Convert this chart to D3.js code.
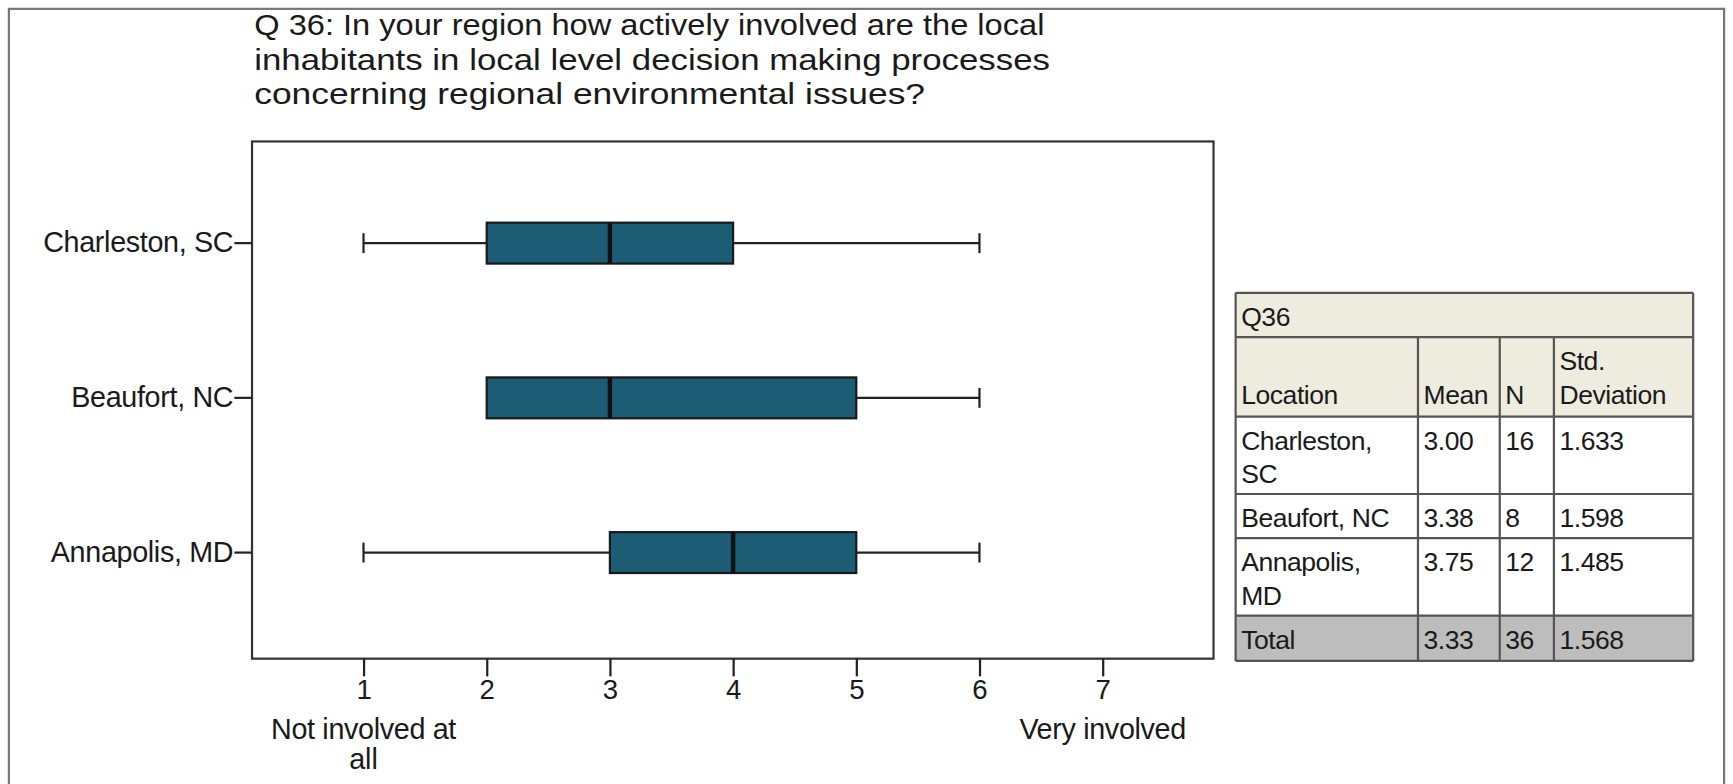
<!DOCTYPE html>
<html>
<head>
<meta charset="utf-8">
<script src="https://cdn.jsdelivr.net/npm/d3@7"></script>
<style>
  body { margin: 0; background: #fff; }
  text { font-family: "Liberation Sans", Arial, sans-serif; fill: #1a1a1a; }
</style>
</head>
<body>
<svg></svg>
<script>
// BOX PLOT DATA
var categories = ['Charleston, SC', 'Beaufort, NC', 'Annapolis, MD'];
var whiskerLow = [1, 2, 1];
var q1 = [2, 2, 3];
var medians = [3, 3, 4];
var q3 = [4, 5, 5];
var whiskerHigh = [6, 6, 6];
var xTicks = [1, 2, 3, 4, 5, 6, 7];

// TABLE DATA
var tableTitle = 'Q36';
var tableHeader = ['Location', 'Mean', 'N', 'Std. Deviation'];
var tableLocations = [['Charleston,', 'SC'], ['Beaufort, NC'], ['Annapolis,', 'MD']];
var tableMeans = ['3.00', '3.38', '3.75'];
var tableNs = ['16', '8', '12'];
var tableStds = ['1.633', '1.598', '1.485'];
var tableTotal = ['Total', '3.33', '36', '1.568'];

var titleLines = [
    'Q 36: In your region how actively involved are the local',
    'inhabitants in local level decision making processes',
    'concerning regional environmental issues?'
];

var svgWidth = 1733,
    svgHeight = 784;

// drawn in the reference's 1568-wide coordinates, scaled up by the viewBox
var svg = d3.select('svg')
    .attr('width', svgWidth)
    .attr('height', svgHeight)
    .attr('viewBox', '0 0 1568 709.4');

// outer frame
svg.append('rect')
    .attr('x', 8).attr('y', 8)
    .attr('width', 1552).attr('height', 720)
    .attr('fill', 'none')
    .attr('stroke', '#777')
    .attr('stroke-width', 2);

svg.append('g').selectAll('text')
    .data(titleLines)
    .enter()
    .append('text')
    .attr('x', 230)
    .attr('y', function (d, i) { return 32 + i * 31; })
    .attr('font-size', 27)
    .attr('textLength', function (d, i) { return [715, 720, 607][i]; })
    .attr('lengthAdjust', 'spacingAndGlyphs')
    .text(function (d) { return d; });

var plot = {left: 228, top: 128, right: 1098, bottom: 596};

var xScale = d3.scaleLinear()
    .domain([0.095, 7.9])
    .range([plot.left, plot.right]);

var yScale = d3.scaleBand()
    .domain(categories)
    .range([150, 570]);

var boxHeight = 37;

svg.append('rect')
    .attr('x', plot.left).attr('y', plot.top)
    .attr('width', plot.right - plot.left)
    .attr('height', plot.bottom - plot.top)
    .attr('fill', '#fff')
    .attr('stroke', '#333')
    .attr('stroke-width', 2);

var x_axis = d3.axisBottom(xScale)
    .tickValues(xTicks)
    .tickFormat(d3.format('d'))
    .tickSize(16)
    .tickPadding(3);

var y_axis = d3.axisLeft(yScale)
    .tickSize(16)
    .tickPadding(1);

var gx = svg.append('g')
    .attr('transform', 'translate(0,' + plot.bottom + ')')
    .call(x_axis);
var gy = svg.append('g')
    .attr('transform', 'translate(' + plot.left + ',0)')
    .call(y_axis);

[gx, gy].forEach(function (g) {
    g.select('.domain').remove();
    g.selectAll('line').attr('stroke', '#222').attr('stroke-width', 2);
    g.selectAll('text')
        .attr('font-size', 25)
        .attr('font-family', '"Liberation Sans", Arial, sans-serif')
        .attr('fill', '#1a1a1a');
});
gy.selectAll('text').attr('font-size', 26).attr('letter-spacing', -0.3);

// end labels of the scale
svg.append('text')
    .attr('x', xScale(1)).attr('y', 669)
    .attr('text-anchor', 'middle').attr('font-size', 26)
    .attr('letter-spacing', -0.3)
    .text('Not involved at');
svg.append('text')
    .attr('x', xScale(1)).attr('y', 696)
    .attr('text-anchor', 'middle').attr('font-size', 26)
    .text('all');
svg.append('text')
    .attr('x', xScale(7)).attr('y', 669)
    .attr('text-anchor', 'middle').attr('font-size', 26)
    .attr('letter-spacing', -0.3)
    .text('Very involved');

var boxes = svg.append('g').selectAll('g')
    .data(categories)
    .enter()
    .append('g')
    .attr('transform', function (d) {
        return 'translate(0,' + (yScale(d) + yScale.bandwidth() / 2) + ')';
    });

// whisker lines
boxes.append('line')
    .attr('x1', function (d, i) { return xScale(whiskerLow[i]); })
    .attr('x2', function (d, i) { return xScale(whiskerHigh[i]); })
    .attr('stroke', '#222').attr('stroke-width', 2);

// caps
boxes.append('line')
    .attr('x1', function (d, i) { return xScale(whiskerLow[i]); })
    .attr('x2', function (d, i) { return xScale(whiskerLow[i]); })
    .attr('y1', -9).attr('y2', 9)
    .attr('stroke', '#222').attr('stroke-width', 2)
    .style('display', function (d, i) { return whiskerLow[i] < q1[i] ? null : 'none'; });
boxes.append('line')
    .attr('x1', function (d, i) { return xScale(whiskerHigh[i]); })
    .attr('x2', function (d, i) { return xScale(whiskerHigh[i]); })
    .attr('y1', -9).attr('y2', 9)
    .attr('stroke', '#222').attr('stroke-width', 2);

boxes.append('rect')
    .attr('x', function (d, i) { return xScale(q1[i]); })
    .attr('width', function (d, i) { return xScale(q3[i]) - xScale(q1[i]); })
    .attr('y', -boxHeight / 2)
    .attr('height', boxHeight)
    .attr('fill', '#1c5c74')
    .attr('stroke', '#1a1a1a')
    .attr('stroke-width', 2);

boxes.append('line')
    .attr('x1', function (d, i) { return xScale(medians[i]); })
    .attr('x2', function (d, i) { return xScale(medians[i]); })
    .attr('y1', -boxHeight / 2).attr('y2', boxHeight / 2)
    .attr('stroke', '#111').attr('stroke-width', 4);

// SUMMARY TABLE
var cols = [1118, 1283, 1357, 1406, 1532];
var rows = [265, 305, 377, 447, 487, 557, 598];
var table = svg.append('g');
var fs = 24;

table.append('rect')
    .attr('x', cols[0]).attr('y', rows[0])
    .attr('width', cols[4] - cols[0]).attr('height', rows[2] - rows[0])
    .attr('fill', '#eeebdf');
table.append('rect')
    .attr('x', cols[0]).attr('y', rows[5])
    .attr('width', cols[4] - cols[0]).attr('height', rows[6] - rows[5])
    .attr('fill', '#bdbdbd');

// grid lines
table.selectAll('.hline')
    .data(rows)
    .enter()
    .append('line')
    .attr('x1', cols[0]).attr('x2', cols[4])
    .attr('y1', function (d) { return d; })
    .attr('y2', function (d) { return d; })
    .attr('stroke', '#555').attr('stroke-width', 2);
table.selectAll('.vline')
    .data(cols)
    .enter()
    .append('line')
    .attr('x1', function (d) { return d; })
    .attr('x2', function (d) { return d; })
    .attr('y1', function (d, i) { return (i === 0 || i === 4) ? rows[0] : rows[1]; })
    .attr('y2', rows[6])
    .attr('stroke', '#555').attr('stroke-width', 2);

function cell(txt, col, y) {
    table.append('text')
        .attr('x', cols[col] + 5)
        .attr('y', y)
        .attr('font-size', fs)
        .attr('letter-spacing', -0.4)
        .attr('fill', '#333')
        .text(txt);
}

cell(tableTitle, 0, 295);
cell(tableHeader[0], 0, 366);
cell(tableHeader[1], 1, 366);
cell(tableHeader[2], 2, 366);
cell('Std.', 3, 335);
cell('Deviation', 3, 366);

var rowTop = [rows[2], rows[3], rows[4]];
tableLocations.forEach(function (lines, i) {
    lines.forEach(function (l, j) {
        cell(l, 0, rowTop[i] + 30 + j * 30);
    });
    cell(tableMeans[i], 1, rowTop[i] + 30);
    cell(tableNs[i], 2, rowTop[i] + 30);
    cell(tableStds[i], 3, rowTop[i] + 30);
});
tableTotal.forEach(function (t, i) {
    cell(t, i, rows[5] + 30);
});
</script>
</body>
</html>
